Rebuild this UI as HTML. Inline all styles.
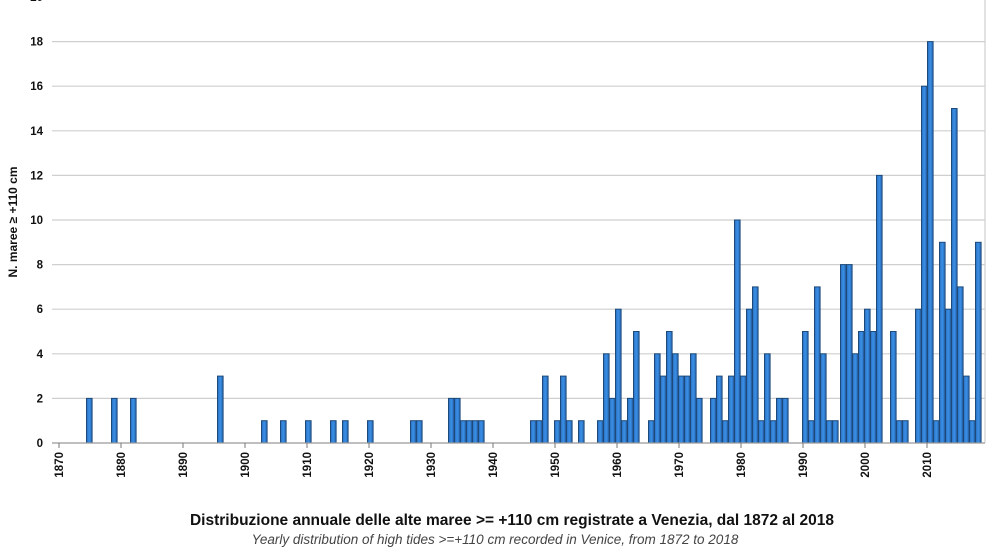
<!DOCTYPE html>
<html><head><meta charset="utf-8"><style>
html,body{margin:0;padding:0;background:#fff;}
svg{display:block;font-family:"Liberation Sans",Arial,sans-serif;}
</style></head><body>
<svg id="c" width="990" height="556" viewBox="0 0 990 556" xmlns="http://www.w3.org/2000/svg">
<defs><linearGradient id="g" x1="0" x2="1" y1="0" y2="0"><stop offset="0" stop-color="#2b6fc0"/><stop offset="0.5" stop-color="#3a8fe6"/><stop offset="1" stop-color="#2668b5"/></linearGradient></defs>
<g id="grid"></g><g id="bars"></g><g id="ax"></g>
<text x="512" y="525" text-anchor="middle" font-size="15.5" font-weight="bold" fill="#111">Distribuzione annuale delle alte maree &gt;= +110 cm registrate a Venezia, dal 1872 al 2018</text>
<text x="495" y="544" text-anchor="middle" font-size="13.5" font-style="italic" fill="#444">Yearly distribution of high tides &gt;=+110 cm recorded in Venice, from 1872  to 2018</text>
<text transform="translate(17,222) rotate(-90)" text-anchor="middle" font-size="12" font-weight="bold" fill="#111">N. maree ≥ +110 cm</text>
</svg>
<script>
var NS="http://www.w3.org/2000/svg",y0=443,u=22.3;
function el(p,t,a,txt){var e=document.createElementNS(NS,t);for(var k in a)e.setAttribute(k,a[k]);if(txt!=null)e.textContent=txt;document.getElementById(p).appendChild(e);}
for(var v=0;v<=20;v+=2){var y=y0-v*u;if(v>0)el("grid","line",{x1:52,x2:985,y1:y,y2:y,stroke:"#cfcfcf","stroke-width":1.2});
el("ax","text",{x:43,y:y+4,"text-anchor":"end","font-size":11.5,"font-weight":"bold",fill:"#111"},v);}
el("ax","line",{x1:985,x2:985,y1:-5,y2:y0,stroke:"#cfcfcf","stroke-width":1.2});
var b=[[86,2],[111,2],[130,2],[217,3],[261,1],[280,1],[305,1],[330,1],[342,1],[367,1],[410,1],[416,1],[448,2],[454,2],[460,1],[466,1],[472,1],[478,1],
[530,1],[536,1],[542,3],[554,1],[560,3],[566,1],[578,1],[597,1],[603,4],[609,2],[615,6],[621,1],[627,2],[633,5],[648,1],[654,4],[660,3],[666,5],[672,4],[678,3],[684,3],[690,4],[696,2],[710,2],[716,3],[722,1],[728,3],[734,10],[740,3],[746,6],[752,7],[758,1],[764,4],[770,1],[776,2],[782,2],
[802,5],[808,1],[814,7],[820,4],[826,1],[832,1],[840,8],[846,8],[852,4],[858,5],[864,6],[870,5],[876,12],[890,5],[896,1],[902,1],[915,6],[921,16],[927,18],[933,1],[939,9],[945,6],[951,15],[957,7],[963,3],[969,1],[975,9]];
b.forEach(function(d){var h=d[1]*u;el("bars","rect",{x:d[0]+0.5,y:y0-h,width:5.6,height:h,fill:"url(#g)",stroke:"#1d4a7a","stroke-width":1});});
el("ax","line",{x1:52,x2:985,y1:y0,y2:y0,stroke:"#999","stroke-width":1.2});
for(var i=0;i<=14;i++){var x=59+62*i;el("ax","line",{x1:x,x2:x,y1:y0,y2:y0+5,stroke:"#777"});
el("ax","text",{transform:"translate("+(x+4)+",452) rotate(-90)","text-anchor":"end","font-size":11.5,"font-weight":"bold",fill:"#111"},1870+10*i);}
</script>
</body></html>
